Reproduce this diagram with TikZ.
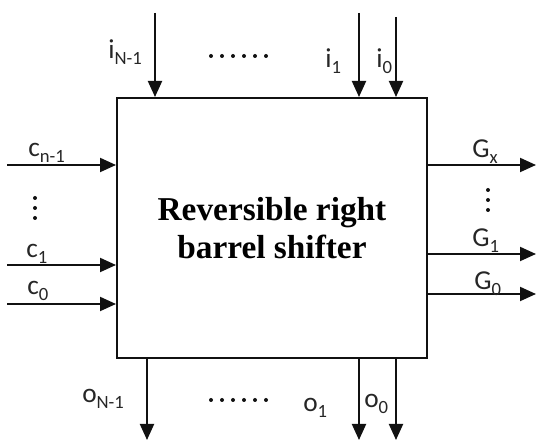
\documentclass[tikz,border=0pt]{standalone}
\usepackage{fontspec}
\setmainfont{Liberation Serif}
\newfontfamily\lblfont{Carlito}
\usetikzlibrary{arrows.meta}
\newcommand{\portname}[2]{#1\raisebox{-4.5pt}{\fontsize{14}{15}\selectfont #2}}
\definecolor{shifterink}{HTML}{111111}
\definecolor{portink}{HTML}{262626}

\begin{document}
\begin{tikzpicture}[
  x=0.75pt,
  y=-0.75pt,
  every node/.style={portink},
  sig/.style={shifterink, line width=1.5pt, -{Triangle[length=12pt, width=10.5pt]}},
  block/.style={draw=shifterink, line width=1.5pt, fill=white,
                minimum width=232.5pt, minimum height=195pt,
                align=center, font=\fontsize{25}{28.5}\selectfont\bfseries, text=black},
  port/.style={anchor=base west, inner sep=0pt, font=\lblfont\fontsize{20.5}{22}\selectfont},
  dotmark/.style={circle, fill=shifterink, inner sep=0pt, minimum size=3pt}
]
  \useasboundingbox (0,0) rectangle (537,441);

  % ---- the shifter block ----
  \node[block] (shifter) at (272,228) {Reversible right\\barrel shifter};

  % ---- data inputs on top ----
  \coordinate (iNin) at (155,13);
  \coordinate (ionein) at (359,13);
  \coordinate (izeroin) at (396,17);
  \draw[sig] (iNin) -- (iNin |- shifter.north);
  \draw[sig] (ionein) -- (ionein |- shifter.north);
  \draw[sig] (izeroin) -- (izeroin |- shifter.north);
  \node[port] (iNlbl) at (108,59) {\portname{i}{N-1}};
  \foreach \k in {0,...,5}
    \node[dotmark] at (211+11*\k,56) {};
  \node[port] (ionelbl) at (325,68) {\portname{i}{1}};
  \node[port] (izerolbl) at (376,68) {\portname{i}{0}};

  % ---- control inputs on the left ----
  \coordinate (cnin) at (7,165);
  \coordinate (conein) at (7,265);
  \coordinate (czeroin) at (7,304);
  \draw[sig] (cnin) -- (cnin -| shifter.west);
  \draw[sig] (conein) -- (conein -| shifter.west);
  \draw[sig] (czeroin) -- (czeroin -| shifter.west);
  \node[port] (cnlbl) at (28,157) {\portname{c}{n-1}};
  \foreach \k in {0,1,2}
    \node[dotmark] at (35,198+10*\k) {};
  \node[port] (conelbl) at (26,258) {\portname{c}{1}};
  \node[port] (czerolbl) at (27,295) {\portname{c}{0}};

  % ---- garbage outputs on the right ----
  \coordinate (gxout) at (536,165);
  \coordinate (goneout) at (536,254);
  \coordinate (gzeroout) at (536,294);
  \draw[sig] (gxout -| shifter.east) -- (gxout);
  \draw[sig] (goneout -| shifter.east) -- (goneout);
  \draw[sig] (gzeroout -| shifter.east) -- (gzeroout);
  \node[port] (gxlbl) at (472,158) {\portname{G}{x}};
  \foreach \k in {0,1,2}
    \node[dotmark] at (488,190+10*\k) {};
  \node[port] (gonelbl) at (472,247) {\portname{G}{1}};
  \node[port] (gzerolbl) at (474,290) {\portname{G}{0}};

  % ---- data outputs at the bottom ----
  \coordinate (oNout) at (147,440);
  \coordinate (oneout) at (359,440);
  \coordinate (ozeroout) at (396,440);
  \draw[sig] (oNout |- shifter.south) -- (oNout);
  \draw[sig] (oneout |- shifter.south) -- (oneout);
  \draw[sig] (ozeroout |- shifter.south) -- (ozeroout);
  \node[port] (oNlbl) at (82,403) {\portname{o}{N-1}};
  \foreach \k in {0,...,5}
    \node[dotmark] at (211+11*\k,400) {};
  \node[port] (onelbl) at (303,412) {\portname{o}{1}};
  \node[port] (ozerolbl) at (364,408) {\portname{o}{0}};
\end{tikzpicture}
\end{document}
